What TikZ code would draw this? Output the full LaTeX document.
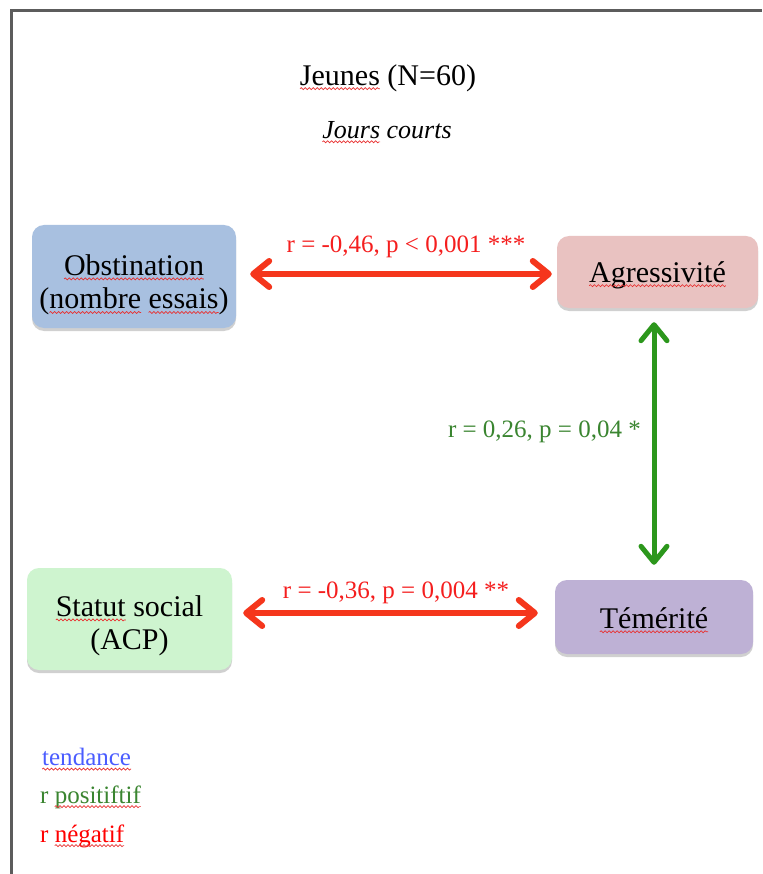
\documentclass[tikz,border=0pt]{standalone}
\usepackage{fontspec}
\setmainfont{Liberation Serif}
\usetikzlibrary{arrows.meta,shadows,decorations.pathmorphing}

\definecolor{framegray}{HTML}{5C5C5C}
\definecolor{obstfill}{HTML}{A8C0E0}
\definecolor{agrfill}{HTML}{E9C2C1}
\definecolor{statfill}{HTML}{CEF4CF}
\definecolor{temfill}{HTML}{BEB1D5}
\definecolor{negarrow}{HTML}{F5361C}
\definecolor{negtext}{HTML}{F51E1E}
\definecolor{posarrow}{HTML}{2C971C}
\definecolor{postext}{HTML}{3A8530}
\definecolor{trendblue}{HTML}{4A5CFF}
\definecolor{wavered}{HTML}{E83030}

% red wavy underline under a word (spell-check style)
\newcommand\spellwave[1]{\tikz[baseline=(w.base)]{%
  \node[inner sep=0pt, outer sep=0pt, anchor=base] (w) {#1};
  \draw[overlay, wavered, line width=0.7pt, decorate,
        decoration={snake, amplitude=1pt, segment length=4pt}]
    ([yshift=-3.5pt]w.base west) -- ([yshift=-3.5pt]w.base east);}}

\tikzset{
  varbox/.style={rounded corners=12pt, minimum width=#1, inner sep=0pt,
    drop shadow={shadow xshift=0pt, shadow yshift=-3pt, opacity=0.3, fill=black!60}},
  vartext/.style={align=center, font=\fontsize{30}{33.5}\selectfont, inner sep=0pt},
  neglink/.style={line width=6pt, draw=negarrow,
    {Straight Barb[length=16pt,width=26pt,line width=6pt,round]}-{Straight Barb[length=16pt,width=26pt,line width=6pt,round]}},
  poslink/.style={line width=5pt, draw=posarrow,
    {Straight Barb[length=16pt,width=26pt,line width=5pt,round]}-{Straight Barb[length=16pt,width=26pt,line width=5pt,round]}},
  linklabel/.style={font=\fontsize{25}{28}\selectfont, inner sep=0pt},
  legend/.style={font=\fontsize{25}{28}\selectfont, anchor=west, inner sep=0pt},
}

\begin{document}
\begin{tikzpicture}[x=1pt,y=-1pt]
\useasboundingbox (0,0) rectangle (762,874);
\fill[white] (0,0) rectangle (762,874);

% page frame
\draw[framegray, line width=3pt] (11,874) -- (11,11) -- (762,11);

% heading
\node[font=\fontsize{30}{33}\selectfont, inner sep=0pt] (title) at (388,78) {\spellwave{Jeunes} (N=60)};
\node[font=\fontsize{26}{29}\selectfont\itshape, inner sep=0pt] (subtitle) at (387,130) {\spellwave{Jours} courts};

% variable boxes
\node[varbox=204pt, minimum height=103pt, fill=obstfill] (obst) at (134,276.5) {};
\node[varbox=201pt, minimum height=72pt, fill=agrfill] (agr) at (657.5,272) {};
\node[varbox=205pt, minimum height=102pt, fill=statfill] (stat) at (129.5,619) {};
\node[varbox=198pt, minimum height=74pt, fill=temfill] (tem) at (654,617) {};

% variable names
\node[vartext] (obstT) at ([yshift=-8.5pt]obst.center)
  {\spellwave{Obstination}\\(\spellwave{nombre} \spellwave{essais})};
\node[vartext] (agrT) at ([yshift=-3pt]agr.center) {\spellwave{Agressivité}};
\node[vartext] (statT) at ([yshift=-7pt]stat.center) {\spellwave{Statut} social\\(ACP)};
\node[vartext] (temT) at ([yshift=-1pt]tem.center) {\spellwave{Témérité}};

% correlations
\draw[neglink] ([xshift=14pt,yshift=2.5pt]obst.east) -- ([xshift=-5pt,yshift=-2pt]agr.west);
\draw[poslink] ([xshift=-3.5pt,yshift=-14pt]agr.south) -- ([yshift=15pt]tem.north);
\draw[neglink] ([xshift=11pt,yshift=6pt]stat.east) -- ([xshift=-17pt,yshift=4pt]tem.west);

\node[linklabel, text=negtext] (l1) at (406,247) {r = -0,46, p < 0,001 ***};
\node[linklabel, text=postext, anchor=east] (l2) at (641,432) {r = 0,26, p = 0,04 *};
\node[linklabel, text=negtext] (l3) at (396,593) {r = -0,36, p = 0,004 **};

% legend
\node[legend, text=trendblue] (lg1) at (42,757) {\spellwave{tendance}};
\node[legend, text=postext] (lg2) at (40,797) {r \spellwave{positiftif}};
\node[legend, text=red] (lg3) at (40,836) {r \spellwave{négatif}};
\end{tikzpicture}
\end{document}
